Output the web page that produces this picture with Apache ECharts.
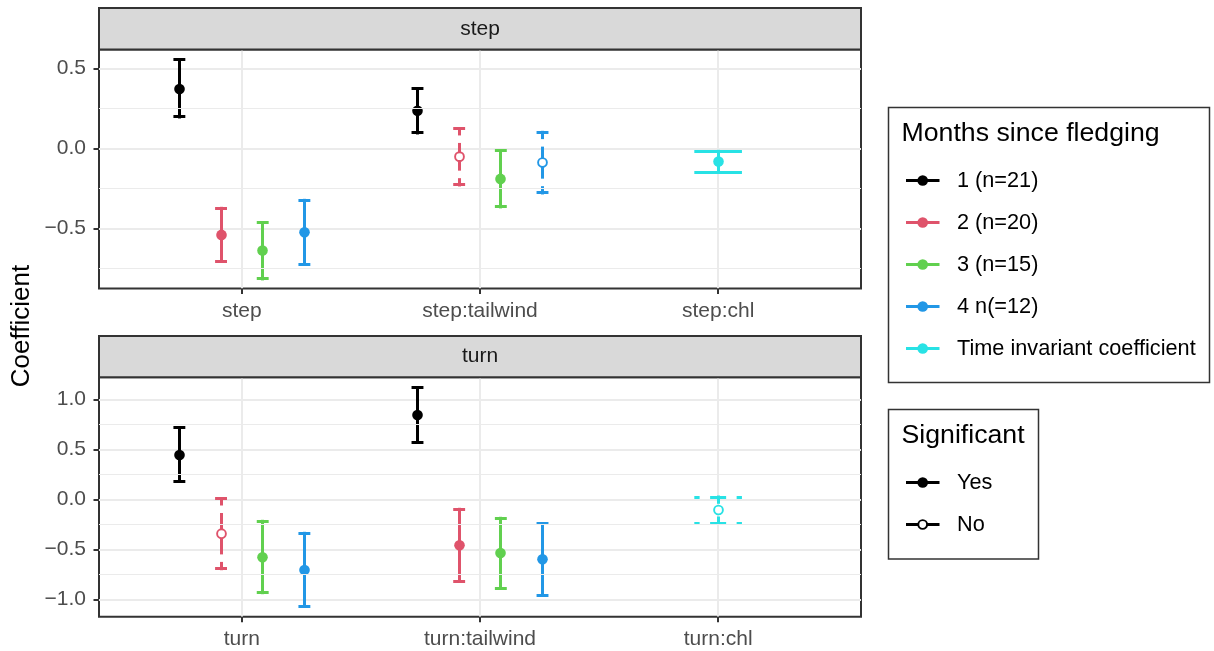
<!DOCTYPE html>
<html>
<head>
<meta charset="utf-8">
<script src="https://cdn.jsdelivr.net/npm/echarts@6/dist/echarts.min.js"></script>
<style>html,body{margin:0;padding:0;background:#fff}#c{width:1214px;height:651px}</style>
</head>
<body>
<div id="c"></div>
<script>
// ---------------- data ----------------
const groupLabels = ['1 (n=21)', '2 (n=20)', '3 (n=15)', '4 n(=12)', 'Time invariant coefficient'];
const groupColors = ['#000000', '#DF536B', '#61D04F', '#2297E6', '#28E2E5'];
const sigLabels = ['Yes', 'No'];
const panelTitles = ['step', 'turn'];
const stepCats = ['step', 'step:tailwind', 'step:chl'];
const turnCats = ['turn', 'turn:tailwind', 'turn:chl'];
// rows = groups (months), columns = categories; null = not estimated
const stepEst  = [[0.371, 0.234, null], [-0.541, -0.052, null], [-0.639, -0.191, null], [-0.525, -0.089, null], [null, null, -0.083]];
const stepLow  = [[0.196, 0.096, null], [-0.706, -0.229, null], [-0.816, -0.366, null], [-0.723, -0.279, null], [null, null, -0.148]];
const stepHigh = [[0.552, 0.371, null], [-0.375, 0.123, null], [-0.466, -0.016, null], [-0.325, 0.100, null], [null, null, -0.019]];
const stepSig  = [[1, 1, null], [1, 0, null], [1, 1, null], [1, 0, null], [null, null, 1]];
const turnEst  = [[0.443, 0.843, null], [-0.344, -0.460, null], [-0.580, -0.537, null], [-0.707, -0.600, null], [null, null, -0.107]];
const turnLow  = [[0.180, 0.573, null], [-0.694, -0.817, null], [-0.934, -0.887, null], [-1.070, -0.960, null], [null, null, -0.240]];
const turnHigh = [[0.716, 1.116, null], [0.006, -0.100, null], [-0.220, -0.190, null], [-0.340, -0.244, null], [null, null, 0.023]];
const turnSig  = [[1, 1, null], [0, 1, null], [1, 1, null], [1, 1, null], [null, null, 0]];
const stepTicks = [-0.5, 0, 0.5];
const stepMinor = [-0.75, -0.25, 0.25];
const turnTicks = [-1, -0.5, 0, 0.5, 1];
const turnMinor = [-0.75, -0.25, 0.25, 0.75];

// ---------------- style constants ----------------
const FONT = '"Liberation Sans", Arial, Helvetica, sans-serif';
const LW = 3;
const DASH = 10.6, GAP = 10.5;
const DODGE = 0.7, CAPW = 0.2;

function pieces(a, b, solid) {
  const lo = Math.min(a, b), hi = Math.max(a, b), L = hi - lo;
  if (solid || L < DASH + GAP) return [[lo, hi]];
  const h = DASH / 2;
  const mid = L - DASH - 2 * GAP;
  const out = [[lo, lo + h], [hi - h, hi]];
  if (mid > 0) out.push([lo + h + GAP, hi - h - GAP]);
  return out;
}

// crisp bars snapped to the pixel grid
function hBar(a, b, y, color) {
  const t = Math.round(y - LW / 2);
  return { type: 'rect', shape: { x: a, y: t, width: b - a, height: LW }, style: { fill: color } };
}
function vBar(x, a, b, color) {
  const l = Math.round(x - LW / 2);
  return { type: 'rect', shape: { x: l, y: a, width: LW, height: b - a }, style: { fill: color } };
}

function renderErr(color) {
  return function (params, api) {
    const x = api.value(0), m = api.value(1), lo = api.value(2), hi = api.value(3);
    const sig = api.value(4), hw = api.value(5);
    const solid = sig === 1;
    const pt = api.coord([x, m]);
    const top = api.coord([x, hi]);
    const bot = api.coord([x, lo]);
    const xl = api.coord([x - hw, hi])[0], xr = api.coord([x + hw, hi])[0];
    const cx = Math.round(pt[0] - LW / 2) + LW / 2;
    const ch = [];
    pieces(top[1], bot[1], solid).forEach(([a, b]) => ch.push(vBar(pt[0], a - LW / 2, b + LW / 2, color)));
    pieces(xl, xr, solid).forEach(([a, b]) => {
      ch.push(hBar(a, b, top[1], color));
      ch.push(hBar(a, b, bot[1], color));
    });
    ch.push(solid
      ? { type: 'circle', shape: { cx: cx, cy: pt[1], r: 5.3 }, style: { fill: color } }
      : { type: 'circle', shape: { cx: cx, cy: pt[1], r: 4.4 }, style: { fill: '#fff', stroke: color, lineWidth: 1.9 } });
    return { type: 'group', children: ch };
  };
}

function buildSeries(panel, cats, est, low, high, sig) {
  const out = [];
  // minor gridlines
  out.push({
    type: 'line', xAxisIndex: panel, yAxisIndex: panel, data: [], z: 1, silent: true,
    markLine: {
      silent: true, symbol: ['none', 'none'], label: { show: false }, animation: false,
      lineStyle: { color: '#EBEBEB', width: 1, type: 'solid' },
      data: (panel === 0 ? stepMinor : turnMinor).map(v => ({ yAxis: v }))
    }
  });
  groupLabels.forEach((g, i) => {
    const data = [];
    cats.forEach((c, j) => {
      if (est[i][j] == null) return;
      const present = est.map((r, k) => r[j] != null ? k : -1).filter(k => k >= 0);
      const n = present.length, slot = present.indexOf(i);
      const off = (slot - (n - 1) / 2) * DODGE / n;
      data.push([j + 1 + off, est[i][j], low[i][j], high[i][j], sig[i][j], CAPW / n / 2]);
    });
    out.push({
      type: 'custom', name: g, xAxisIndex: panel, yAxisIndex: panel, z: 3,
      renderItem: renderErr(groupColors[i]), data: data,
      encode: { x: [0], y: [1, 2, 3] }
    });
  });
  return out;
}

function xAxisDef(gi, cats) {
  return {
    type: 'value', gridIndex: gi, min: 0.4, max: 3.6, position: 'bottom',
    axisLine: { show: false, onZero: false },
    axisTick: { show: true, length: 5.5, customValues: [1, 2, 3], lineStyle: { color: '#333333', width: 2 } },
    axisLabel: { show: true, customValues: [1, 2, 3], margin: 12, color: '#4D4D4D', fontSize: 21, fontFamily: FONT,
      formatter: v => cats[Math.round(v) - 1] },
    splitLine: { show: true, lineStyle: { color: '#EBEBEB', width: 2 } }
  };
}
function fmt(v) { return (v < 0 ? '\u2212' : '') + Math.abs(v).toFixed(1); }
function yAxisDef(gi, min, max, ticks) {
  return {
    type: 'value', gridIndex: gi, min: min, max: max, position: 'left',
    axisLine: { show: false, onZero: false },
    axisTick: { show: true, length: 5.5, customValues: ticks, lineStyle: { color: '#333333', width: 2 } },
    axisLabel: { show: true, customValues: ticks, margin: 13, color: '#4D4D4D', fontSize: 21, fontFamily: FONT, formatter: fmt },
    splitLine: { show: true, lineStyle: { color: '#EBEBEB', width: 2 } }
  };
}

// ---------------- strips, title and legend graphics ----------------
const graphics = [];
const strips = [{ y: 8, h: 41.5 }, { y: 336, h: 41.3 }];
strips.forEach((s, k) => {
  graphics.push({ type: 'rect', shape: { x: 99, y: s.y, width: 762, height: s.h }, style: { fill: '#D9D9D9', stroke: '#333333', lineWidth: 2 }, z: 10 });
  graphics.push({ type: 'text', x: 480, y: s.y + s.h / 2, style: { text: panelTitles[k], fill: '#1A1A1A', font: '21px ' + FONT, align: 'center', verticalAlign: 'middle' }, z: 11 });
});
graphics.push({ type: 'text', x: 22, y: 326, rotation: Math.PI / 2, style: { text: 'Coefficient', fill: '#000', font: '26px ' + FONT, align: 'center', verticalAlign: 'middle' } });
// legend 1
graphics.push({ type: 'rect', shape: { x: 888.5, y: 107.5, width: 321, height: 275 }, style: { fill: '#fff', stroke: '#333333', lineWidth: 1.5 } });
graphics.push({ type: 'text', x: 901.5, y: 133.5, style: { text: 'Months since fledging', fill: '#000', font: '26.7px ' + FONT, align: 'left', verticalAlign: 'middle' } });
groupLabels.forEach((g, i) => {
  const y = 180.5 + 42 * i;
  graphics.push({ type: 'rect', shape: { x: 906, y: Math.round(y - LW / 2), width: 33.5, height: LW }, style: { fill: groupColors[i] } });
  graphics.push({ type: 'circle', shape: { cx: 922.7, cy: Math.round(y - LW / 2) + LW / 2, r: 5.3 }, style: { fill: groupColors[i] } });
  graphics.push({ type: 'text', x: 957, y: y + 0.5, style: { text: g, fill: '#000', font: '21.7px ' + FONT, align: 'left', verticalAlign: 'middle' } });
});
// legend 2
graphics.push({ type: 'rect', shape: { x: 888.5, y: 409.5, width: 150, height: 149.5 }, style: { fill: '#fff', stroke: '#333333', lineWidth: 1.5 } });
graphics.push({ type: 'text', x: 901.5, y: 435.5, style: { text: 'Significant', fill: '#000', font: '26.7px ' + FONT, align: 'left', verticalAlign: 'middle' } });
sigLabels.forEach((s, i) => {
  const y = 482.3 + 42 * i;
  const yc = Math.round(y - LW / 2) + LW / 2;
  graphics.push({ type: 'rect', shape: { x: 906, y: Math.round(y - LW / 2), width: 33.5, height: LW }, style: { fill: '#000' } });
  graphics.push(i === 0
    ? { type: 'circle', shape: { cx: 922.7, cy: yc, r: 5.3 }, style: { fill: '#000' } }
    : { type: 'circle', shape: { cx: 922.7, cy: yc, r: 4.4 }, style: { fill: '#fff', stroke: '#000', lineWidth: 1.9 } });
  graphics.push({ type: 'text', x: 957, y: y + 0.5, style: { text: s, fill: '#000', font: '21.7px ' + FONT, align: 'left', verticalAlign: 'middle' } });
});

const chart = echarts.init(document.getElementById('c'), null, { renderer: 'canvas' });
chart.setOption({
  animation: false,
  backgroundColor: '#fff',
  textStyle: { fontFamily: FONT },
  grid: [
    { left: 99, top: 49.5, width: 762, height: 239, show: true, borderColor: '#333333', borderWidth: 2, backgroundColor: 'transparent' },
    { left: 99, top: 377.3, width: 762, height: 239.4, show: true, borderColor: '#333333', borderWidth: 2, backgroundColor: 'transparent' }
  ],
  xAxis: [xAxisDef(0, stepCats), xAxisDef(1, turnCats)],
  yAxis: [yAxisDef(0, -0.876, 0.6175, stepTicks), yAxisDef(1, -1.174, 1.22, turnTicks)],
  series: [].concat(
    buildSeries(0, stepCats, stepEst, stepLow, stepHigh, stepSig),
    buildSeries(1, turnCats, turnEst, turnLow, turnHigh, turnSig)
  ),
  graphic: graphics
});
</script>
</body>
</html>
